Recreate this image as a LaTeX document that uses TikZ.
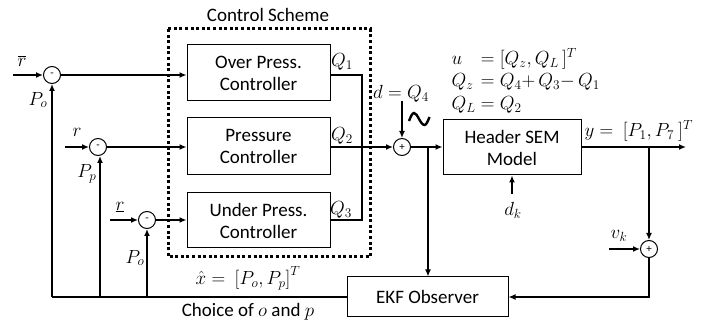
\RequirePackage{fix-cm}
\documentclass[tikz,border=0pt]{standalone}
\usepackage[no-math]{fontspec}
\setmainfont{Carlito}
\usetikzlibrary{arrows.meta}
\begin{document}
\begin{tikzpicture}[x=1pt,y=-1pt,
  line width=1.3pt,
  every node/.style={font=\fontsize{19}{22}\selectfont},
  arr/.style={-{Latex[length=7pt,width=6pt]}},
  blk/.style={draw,line width=1pt,rectangle,align=center,inner sep=0pt},
  sumnode/.style={draw,line width=1pt,circle,minimum size=17pt,inner sep=0pt,font=\fontsize{11}{12}\selectfont},
  lbl/.style={inner sep=1pt}]
\useasboundingbox (0,0) rectangle (718,323);

% dotted frame of the control scheme
\draw[line width=3pt,dash pattern=on 3pt off 2.6pt] (168,29) rectangle (370,257);
\node[lbl] (cs) at (268,15) {Control Scheme};

% controllers
\node[blk,minimum width=143pt,minimum height=56pt] (over) at (258.5,73) {Over Press.\\Controller};
\node[blk,minimum width=143pt,minimum height=57pt] (press) at (258.5,146.5) {Pressure\\Controller};
\node[blk,minimum width=143pt,minimum height=55pt] (under) at (258.5,220.5) {Under Press.\\Controller};

% plant and observer
\node[blk,minimum width=138pt,minimum height=55pt] (header) at (512,147.5) {Header SEM\\Model};
\node[blk,minimum width=161pt,minimum height=40pt] (ekf) at (427.5,297) {EKF Observer};

% summing junctions
\node[sumnode] (s1) at (52,75) {-};
\node[sumnode] (s2) at (98,147) {-};
\node[sumnode] (s3) at (147,220) {-};
\node[sumnode] (s4) at (402,147) {+};
\node[sumnode] (s5) at (649,249) {+};

% free ends and corners
\coordinate (in1) at (13,75);
\coordinate (in2) at (65,147);
\coordinate (in3) at (110,220);
\coordinate (qtop) at (362,75);
\coordinate (qbot) at (362,220);
\coordinate (din) at (402,101);
\coordinate (br1) at (428,147);
\coordinate (yout) at (686,147);
\coordinate (br2) at (649,147);
\coordinate (vin) at (609,249);
\coordinate (dkin) at (512,194);
\coordinate (fb1) at (52,297);
\coordinate (fb2) at (100,297);
\coordinate (fb3) at (147,297);

% references into the controllers
\draw[arr] (in1) -- (s1);
\draw[arr] (s1) -- (s1 -| over.west);
\draw[arr] (in2) -- (s2);
\draw[arr] (s2) -- (s2 -| press.west);
\draw[arr] (in3) -- (s3);
\draw[arr] (s3) -- (s3 -| under.west);

% controller outputs
\draw (over.east |- qtop) -- (qtop) -- (qbot) -- (under.east |- qbot);
\draw[arr] (press.east |- s4) -- (s4);
\draw[arr] (din) -- (s4);
\draw[line width=2.4pt] (409,121) sin (414,113) cos (419,119) sin (424.5,125) cos (429.5,117);

% plant
\draw[arr] (s4) -- (header.west |- s4);
\draw[arr] (br1) -- (br1 |- ekf.north);
\draw[arr] (header.east |- yout) -- (yout);
\draw[arr] (br2) -- (s5);
\draw[arr] (vin) -- (s5);
\draw[arr] (s5) |- (ekf.east);
\draw[arr] (dkin) -- (dkin |- header.south);

% estimate fed back
\draw (ekf.west) -- (fb1);
\draw[arr] (fb1) -- (s1);
\draw[arr] (fb2) -- (fb2 |- s2.south);
\draw[arr] (fb3) -- (s3);

% labels
\node[lbl] (lr1) at (22,61) {$\overline{r}$};
\node[lbl] (lpo1) at (38,100) {$P_o$};
\node[lbl] (lr2) at (77,132) {$r$};
\node[lbl] (lpp) at (87,174) {$P_p$};
\node[lbl] (lr3) at (120,207) {$\underline{r}$};
\node[lbl] (lpo2) at (135,258) {$P_o$};
\node[lbl] (q1) at (342,62) {$Q_1$};
\node[lbl] (q2) at (342,136) {$Q_2$};
\node[lbl] (q3) at (341,210) {$Q_3$};
\node[lbl] (ld) at (401,94) {$d = Q_4$};
\node[lbl,anchor=west] (eu) at (450,59) {$\makebox[24pt][l]{$u$}= [Q_z, Q_L\,]^T$};
\node[lbl,anchor=west] (ez) at (450,82) {$\makebox[24pt][l]{$Q_z$}= Q_4{+}\,Q_3{-}\,Q_1$};
\node[lbl,anchor=west] (el) at (450,105) {$\makebox[24pt][l]{$Q_L$}= Q_2$};
\node[lbl,anchor=west] (ly) at (583,131) {$y =\ [P_1, P_7\ ]^T$};
\node[lbl] (ldk) at (513,210) {$d_k$};
\node[lbl] (lvk) at (619,236) {$v_k$};
\node[lbl] (lx) at (248,278) {$\hat{x} =\ \bigl[P_o, P_p\bigr]^T$};
\node[lbl] (lch) at (248,312) {Choice of $o$ and $p$};
\end{tikzpicture}
\end{document}
